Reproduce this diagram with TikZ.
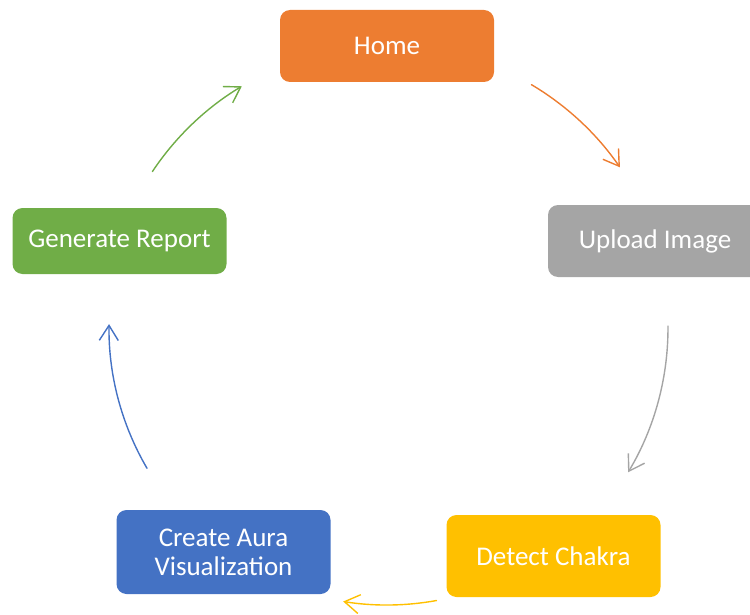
\documentclass[tikz,border=0pt]{standalone}
\usepackage{fontspec}
\setmainfont{Carlito}
\usetikzlibrary{arrows.meta,calc}
\definecolor{oorange}{HTML}{ED7D31}
\definecolor{ogray}{HTML}{A5A5A5}
\definecolor{oyellow}{HTML}{FFC000}
\definecolor{oblue}{HTML}{4472C4}
\definecolor{ogreen}{HTML}{70AD47}
\begin{document}
\begin{tikzpicture}[x=1pt,y=-1pt,
  box/.style={rectangle, rounded corners=10pt, minimum width=214pt, text=white,
    font=\fontsize{27}{29}\selectfont, align=center, inner sep=0pt},
  conn/.style={line width=1.4pt, line cap=round,
    -{Straight Barb[length=15pt,width=19pt,line width=1.4pt]}}]
\useasboundingbox (0,0) rectangle (750,615);
\clip (0,0) rectangle (750,615);

\node[box, fill=oorange, minimum height=72pt] (home) at (387,46) {Home};
\node[box, fill=ogray, minimum height=72pt] (upload) at (655,241) {Upload Image};
\node[box, fill=oyellow, minimum height=82pt] (detect) at (553.5,556) {Detect Chakra};
\node[box, fill=oblue, minimum height=84pt] (create) at (223.5,552) {Create Aura\\Visualization};
\node[box, fill=ogreen, minimum height=66pt] (report) at (119.5,241) {Generate Report};

\coordinate (c) at (387,328);
\coordinate (s1) at ($(c)+(-59.3:283)$);
\coordinate (s2) at ($(c)+(-0.4:281)$);
\coordinate (s3) at ($(c)+(79.7:277)$);
\coordinate (s4) at ($(c)+(149.7:278)$);
\coordinate (s5) at ($(c)+(-146.3:282)$);

\draw[conn, oorange] (s1) arc[start angle=-59.3, end angle=-34.6, radius=283];
\draw[conn, ogray] (s2) arc[start angle=-0.4, end angle=30.9, radius=281];
\draw[conn, oyellow] (s3) arc[start angle=79.7, end angle=99.1, radius=277];
\draw[conn, oblue] (s4) arc[start angle=149.7, end angle=180.8, radius=278];
\draw[conn, ogreen] (s5) arc[start angle=-146.3, end angle=-121, radius=282];
\end{tikzpicture}
\end{document}
